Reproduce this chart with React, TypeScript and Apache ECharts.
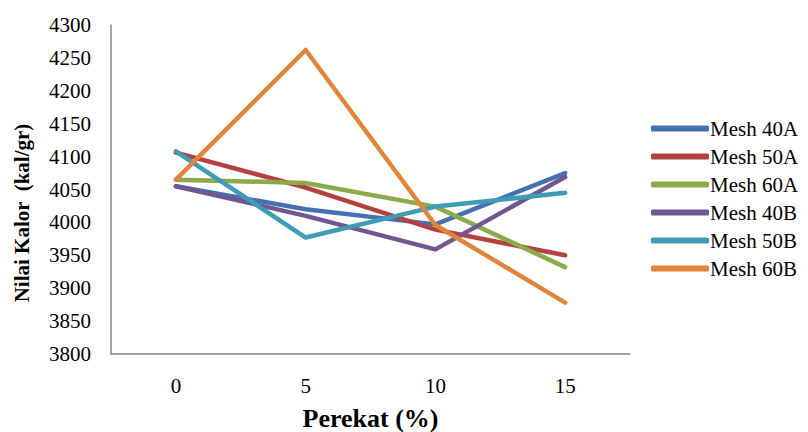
import React, { useEffect, useRef } from "react";
import * as echarts from "echarts";

const categories = ["0", "5", "10", "15"];
const seriesNames = ["Mesh 40A", "Mesh 50A", "Mesh 60A", "Mesh 40B", "Mesh 50B", "Mesh 60B"];
const mesh40A = [4055, 4020, 3997, 4075];
const mesh50A = [4106, 4053, 3989, 3950];
const mesh60A = [4065, 4060, 4024, 3932];
const mesh40B = [4055, 4010, 3959, 4069];
const mesh50B = [4108, 3977, 4024, 4045];
const mesh60B = [4065, 4262, 3996, 3878];
const colors = ["#4472B0", "#B3423F", "#8AAB48", "#71578F", "#3F9CB5", "#E0853A"];

const FONT = "Liberation Serif";

export default function App() {
  const ref = useRef<HTMLDivElement>(null);
  useEffect(() => {
    const chart = echarts.init(ref.current!, null, { renderer: "svg" });
    const data = [mesh40A, mesh50A, mesh60A, mesh40B, mesh50B, mesh60B];
    chart.setOption({
      animation: false,
      color: colors,
      textStyle: { fontFamily: FONT },
      grid: { left: 111, top: 25, right: 178, bottom: 78, outerBoundsMode: "none", containLabel: false },
      legend: {
        orient: "vertical",
        left: 646,
        top: 113,
        itemWidth: 58,
        itemHeight: 6,
        itemGap: 7,
        icon: "roundRect",
        textStyle: { fontSize: 21, color: "#000", fontFamily: FONT, padding: [0, 0, 0, -4] },
        data: seriesNames,
      },
      graphic: [
        {
          type: "text",
          x: 22,
          y: 213,
          rotation: Math.PI / 2,
          style: {
            text: "Nilai Kalor  (kal/gr)",
            fontSize: 21,
            fontWeight: "bold",
            fontFamily: FONT,
            fill: "#000",
            align: "center",
            verticalAlign: "middle",
          },
        },
      ],
      xAxis: {
        type: "category",
        data: categories,
        boundaryGap: true,
        axisLine: { lineStyle: { color: "#868686", width: 1.5 } },
        axisTick: { show: false },
        axisLabel: { color: "#000", fontSize: 21, margin: 21, fontFamily: FONT },
        name: "Perekat (%)",
        nameLocation: "middle",
        nameGap: 51,
        nameTextStyle: { fontSize: 26, fontWeight: "bold", color: "#000", fontFamily: FONT },
      },
      yAxis: {
        type: "value",
        min: 3800,
        max: 4300,
        interval: 50,
        axisLine: { show: true, lineStyle: { color: "#868686", width: 1.5 } },
        axisTick: { show: false },
        splitLine: { show: false },
        axisLabel: { color: "#000", fontSize: 21, margin: 20, fontFamily: FONT, formatter: (v: number) => String(v) },
      },
      series: seriesNames.map((n, i) => ({
        name: n,
        type: "line",
        data: data[i],
        symbol: "none",
        lineStyle: { width: 4.5, cap: "round", join: "round" },
      })),
    });
    return () => chart.dispose();
  }, []);
  return <div ref={ref} style={{ position: "absolute", left: 0, top: 0, width: 808, height: 432 }} />;
}
